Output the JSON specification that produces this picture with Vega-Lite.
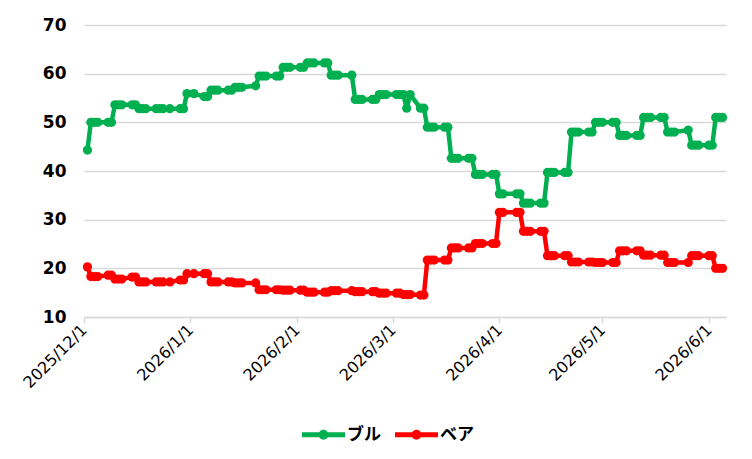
{
  "$schema": "https://vega.github.io/schema/vega-lite/v6.json",
  "width": 642,
  "height": 292,
  "autosize": {"type": "none"},
  "padding": {"left": 84, "top": 25, "right": 26, "bottom": 142},
  "background": "white",
  "config": {"font": "DejaVu Sans", "view": {"stroke": null}},
  "data": {"values": [
    {"d": "2025-12-02", "ブル": 44.3, "ベア": 20.3},
    {"d": "2025-12-03", "ブル": 50.0, "ベア": 18.3},
    {"d": "2025-12-04", "ブル": 50.0, "ベア": 18.3},
    {"d": "2025-12-05", "ブル": 50.0, "ベア": 18.3},
    {"d": "2025-12-08", "ブル": 50.0, "ベア": 18.6},
    {"d": "2025-12-09", "ブル": 50.0, "ベア": 18.6},
    {"d": "2025-12-10", "ブル": 53.6, "ベア": 17.8},
    {"d": "2025-12-11", "ブル": 53.6, "ベア": 17.8},
    {"d": "2025-12-12", "ブル": 53.6, "ベア": 17.8},
    {"d": "2025-12-15", "ブル": 53.6, "ベア": 18.2},
    {"d": "2025-12-16", "ブル": 53.6, "ベア": 18.2},
    {"d": "2025-12-17", "ブル": 52.8, "ベア": 17.2},
    {"d": "2025-12-18", "ブル": 52.8, "ベア": 17.2},
    {"d": "2025-12-19", "ブル": 52.8, "ベア": 17.2},
    {"d": "2025-12-22", "ブル": 52.8, "ベア": 17.2},
    {"d": "2025-12-23", "ブル": 52.8, "ベア": 17.2},
    {"d": "2025-12-24", "ブル": 52.8, "ベア": 17.2},
    {"d": "2025-12-26", "ブル": 52.8, "ベア": 17.2},
    {"d": "2025-12-29", "ブル": 52.8, "ベア": 17.6},
    {"d": "2025-12-30", "ブル": 52.8, "ベア": 17.6},
    {"d": "2025-12-31", "ブル": 55.9, "ベア": 18.9},
    {"d": "2026-01-02", "ブル": 55.9, "ベア": 18.9},
    {"d": "2026-01-05", "ブル": 55.3, "ベア": 18.9},
    {"d": "2026-01-06", "ブル": 55.3, "ベア": 18.9},
    {"d": "2026-01-07", "ブル": 56.6, "ベア": 17.2},
    {"d": "2026-01-08", "ブル": 56.6, "ベア": 17.2},
    {"d": "2026-01-09", "ブル": 56.6, "ベア": 17.2},
    {"d": "2026-01-12", "ブル": 56.6, "ベア": 17.2},
    {"d": "2026-01-13", "ブル": 56.6, "ベア": 17.2},
    {"d": "2026-01-14", "ブル": 57.2, "ベア": 17.0},
    {"d": "2026-01-15", "ブル": 57.2, "ベア": 17.0},
    {"d": "2026-01-16", "ブル": 57.2, "ベア": 17.0},
    {"d": "2026-01-20", "ブル": 57.5, "ベア": 17.0},
    {"d": "2026-01-21", "ブル": 59.5, "ベア": 15.6},
    {"d": "2026-01-22", "ブル": 59.5, "ベア": 15.6},
    {"d": "2026-01-23", "ブル": 59.5, "ベア": 15.6},
    {"d": "2026-01-26", "ブル": 59.5, "ベア": 15.6},
    {"d": "2026-01-27", "ブル": 59.5, "ベア": 15.6},
    {"d": "2026-01-28", "ブル": 61.3, "ベア": 15.5},
    {"d": "2026-01-29", "ブル": 61.3, "ベア": 15.5},
    {"d": "2026-01-30", "ブル": 61.3, "ベア": 15.5},
    {"d": "2026-02-02", "ブル": 61.3, "ベア": 15.5},
    {"d": "2026-02-03", "ブル": 61.3, "ベア": 15.5},
    {"d": "2026-02-04", "ブル": 62.2, "ベア": 15.1},
    {"d": "2026-02-05", "ブル": 62.2, "ベア": 15.1},
    {"d": "2026-02-06", "ブル": 62.2, "ベア": 15.1},
    {"d": "2026-02-09", "ブル": 62.2, "ベア": 15.1},
    {"d": "2026-02-10", "ブル": 62.2, "ベア": 15.1},
    {"d": "2026-02-11", "ブル": 59.7, "ベア": 15.4},
    {"d": "2026-02-12", "ブル": 59.7, "ベア": 15.4},
    {"d": "2026-02-13", "ブル": 59.7, "ベア": 15.4},
    {"d": "2026-02-17", "ブル": 59.7, "ベア": 15.4},
    {"d": "2026-02-18", "ブル": 54.7, "ベア": 15.2},
    {"d": "2026-02-19", "ブル": 54.7, "ベア": 15.2},
    {"d": "2026-02-20", "ブル": 54.7, "ベア": 15.2},
    {"d": "2026-02-23", "ブル": 54.7, "ベア": 15.2},
    {"d": "2026-02-24", "ブル": 54.7, "ベア": 15.2},
    {"d": "2026-02-25", "ブル": 55.7, "ベア": 14.9},
    {"d": "2026-02-26", "ブル": 55.7, "ベア": 14.9},
    {"d": "2026-02-27", "ブル": 55.7, "ベア": 14.9},
    {"d": "2026-03-02", "ブル": 55.7, "ベア": 14.9},
    {"d": "2026-03-03", "ブル": 55.7, "ベア": 14.9},
    {"d": "2026-03-04", "ブル": 55.7, "ベア": 14.6},
    {"d": "2026-03-05", "ブル": 52.9, "ベア": 14.6},
    {"d": "2026-03-06", "ブル": 55.7, "ベア": 14.6},
    {"d": "2026-03-09", "ブル": 52.9, "ベア": 14.5},
    {"d": "2026-03-10", "ブル": 52.9, "ベア": 14.5},
    {"d": "2026-03-11", "ブル": 49.0, "ベア": 21.7},
    {"d": "2026-03-12", "ブル": 49.0, "ベア": 21.7},
    {"d": "2026-03-13", "ブル": 49.0, "ベア": 21.7},
    {"d": "2026-03-16", "ブル": 49.0, "ベア": 21.7},
    {"d": "2026-03-17", "ブル": 49.0, "ベア": 21.7},
    {"d": "2026-03-18", "ブル": 42.6, "ベア": 24.2},
    {"d": "2026-03-19", "ブル": 42.6, "ベア": 24.2},
    {"d": "2026-03-20", "ブル": 42.6, "ベア": 24.2},
    {"d": "2026-03-23", "ブル": 42.6, "ベア": 24.2},
    {"d": "2026-03-24", "ブル": 42.6, "ベア": 24.2},
    {"d": "2026-03-25", "ブル": 39.3, "ベア": 25.1},
    {"d": "2026-03-26", "ブル": 39.3, "ベア": 25.1},
    {"d": "2026-03-27", "ブル": 39.3, "ベア": 25.1},
    {"d": "2026-03-30", "ブル": 39.3, "ベア": 25.1},
    {"d": "2026-03-31", "ブル": 39.3, "ベア": 25.1},
    {"d": "2026-04-01", "ブル": 35.3, "ベア": 31.5},
    {"d": "2026-04-02", "ブル": 35.3, "ベア": 31.5},
    {"d": "2026-04-06", "ブル": 35.3, "ベア": 31.5},
    {"d": "2026-04-07", "ブル": 35.3, "ベア": 31.5},
    {"d": "2026-04-08", "ブル": 33.4, "ベア": 27.6},
    {"d": "2026-04-09", "ブル": 33.4, "ベア": 27.6},
    {"d": "2026-04-10", "ブル": 33.4, "ベア": 27.6},
    {"d": "2026-04-13", "ブル": 33.4, "ベア": 27.6},
    {"d": "2026-04-14", "ブル": 33.4, "ベア": 27.6},
    {"d": "2026-04-15", "ブル": 39.7, "ベア": 22.6},
    {"d": "2026-04-16", "ブル": 39.7, "ベア": 22.6},
    {"d": "2026-04-17", "ブル": 39.7, "ベア": 22.6},
    {"d": "2026-04-20", "ブル": 39.7, "ベア": 22.6},
    {"d": "2026-04-21", "ブル": 39.7, "ベア": 22.6},
    {"d": "2026-04-22", "ブル": 48.0, "ベア": 21.3},
    {"d": "2026-04-23", "ブル": 48.0, "ベア": 21.3},
    {"d": "2026-04-24", "ブル": 48.0, "ベア": 21.3},
    {"d": "2026-04-27", "ブル": 48.0, "ベア": 21.3},
    {"d": "2026-04-28", "ブル": 48.0, "ベア": 21.3},
    {"d": "2026-04-29", "ブル": 50.0, "ベア": 21.2},
    {"d": "2026-04-30", "ブル": 50.0, "ベア": 21.2},
    {"d": "2026-05-01", "ブル": 50.0, "ベア": 21.2},
    {"d": "2026-05-04", "ブル": 50.0, "ベア": 21.2},
    {"d": "2026-05-05", "ブル": 50.0, "ベア": 21.2},
    {"d": "2026-05-06", "ブル": 47.3, "ベア": 23.6},
    {"d": "2026-05-07", "ブル": 47.3, "ベア": 23.6},
    {"d": "2026-05-08", "ブル": 47.3, "ベア": 23.6},
    {"d": "2026-05-11", "ブル": 47.3, "ベア": 23.6},
    {"d": "2026-05-12", "ブル": 47.3, "ベア": 23.6},
    {"d": "2026-05-13", "ブル": 51.0, "ベア": 22.7},
    {"d": "2026-05-14", "ブル": 51.0, "ベア": 22.7},
    {"d": "2026-05-15", "ブル": 51.0, "ベア": 22.7},
    {"d": "2026-05-18", "ブル": 51.0, "ベア": 22.7},
    {"d": "2026-05-19", "ブル": 51.0, "ベア": 22.7},
    {"d": "2026-05-20", "ブル": 48.0, "ベア": 21.2},
    {"d": "2026-05-21", "ブル": 48.0, "ベア": 21.2},
    {"d": "2026-05-22", "ブル": 48.0, "ベア": 21.2},
    {"d": "2026-05-26", "ブル": 48.4, "ベア": 21.2},
    {"d": "2026-05-27", "ブル": 45.3, "ベア": 22.6},
    {"d": "2026-05-28", "ブル": 45.3, "ベア": 22.6},
    {"d": "2026-05-29", "ブル": 45.3, "ベア": 22.6},
    {"d": "2026-06-01", "ブル": 45.3, "ベア": 22.6},
    {"d": "2026-06-02", "ブル": 45.3, "ベア": 22.6},
    {"d": "2026-06-03", "ブル": 51.0, "ベア": 20.0},
    {"d": "2026-06-04", "ブル": 51.0, "ベア": 20.0},
    {"d": "2026-06-05", "ブル": 51.0, "ベア": 20.0}
  ]},
  "transform": [{"fold": ["ブル", "ベア"], "as": ["s", "v"]}],
  "encoding": {
    "x": {
      "field": "d",
      "type": "temporal",
      "scale": {
        "type": "utc",
        "domain": [
          {"year": 2025, "month": 12, "date": 1, "utc": true},
          {"year": 2026, "month": 6, "date": 6, "utc": true}
        ]
      },
      "axis": {
        "title": null,
        "grid": false,
        "values": [
          {"year": 2025, "month": 12, "date": 1, "utc": true},
          {"year": 2026, "month": 1, "date": 1, "utc": true},
          {"year": 2026, "month": 2, "date": 1, "utc": true},
          {"year": 2026, "month": 3, "date": 1, "utc": true},
          {"year": 2026, "month": 4, "date": 1, "utc": true},
          {"year": 2026, "month": 5, "date": 1, "utc": true},
          {"year": 2026, "month": 6, "date": 1, "utc": true}
        ],
        "labelExpr": "utcFormat(datum.value, '%Y/%-m/%-d')",
        "labelAngle": -45,
        "labelAlign": "right",
        "labelBaseline": "middle",
        "labelFontSize": 16,
        "labelColor": "#000000",
        "labelPadding": 4,
        "labelFlush": false,
        "labelOverlap": false,
        "domainColor": "#D9D9D9",
        "domainWidth": 1.5,
        "tickColor": "#D9D9D9",
        "tickWidth": 1.5,
        "tickSize": 6
      }
    },
    "y": {
      "field": "v",
      "type": "quantitative",
      "scale": {"domain": [10, 70], "nice": false, "zero": false},
      "axis": {
        "title": null,
        "values": [10, 20, 30, 40, 50, 60, 70],
        "domain": false,
        "ticks": false,
        "gridColor": "#D9D9D9",
        "gridWidth": 1.5,
        "labelFontSize": 17,
        "labelFontWeight": "bold",
        "labelColor": "#000000",
        "labelPadding": 18
      }
    },
    "color": {
      "field": "s",
      "type": "nominal",
      "sort": ["ブル", "ベア"],
      "scale": {"domain": ["ブル", "ベア"], "range": ["#00B050", "#FF0000"]},
      "legend": {
        "title": null,
        "orient": "none",
        "legendX": 218,
        "legendY": 388,
        "direction": "horizontal",
        "symbolType": "M-1,-0.116L1,-0.116L1,0.116L-1,0.116Z M-0.23,0A0.23,0.23 0 1,1 0.23,0A0.23,0.23 0 1,1 -0.23,0Z",
        "symbolSize": 1849,
        "symbolStrokeWidth": 0,
        "labelFont": "Noto Sans CJK JP",
        "labelFontSize": 17,
        "labelFontWeight": "bold",
        "labelColor": "#000000",
        "labelOffset": 2,
        "columnPadding": 14,
        "encode": {
          "symbols": {"update": {"fill": {"scale": "color", "field": "value"}, "opacity": {"value": 1}}}
        }
      }
    }
  },
  "layer": [
    {"mark": {"type": "line", "strokeWidth": 4.5, "strokeJoin": "round"}},
    {"mark": {"type": "point", "shape": "circle", "filled": true, "size": 85, "opacity": 1}}
  ]
}
